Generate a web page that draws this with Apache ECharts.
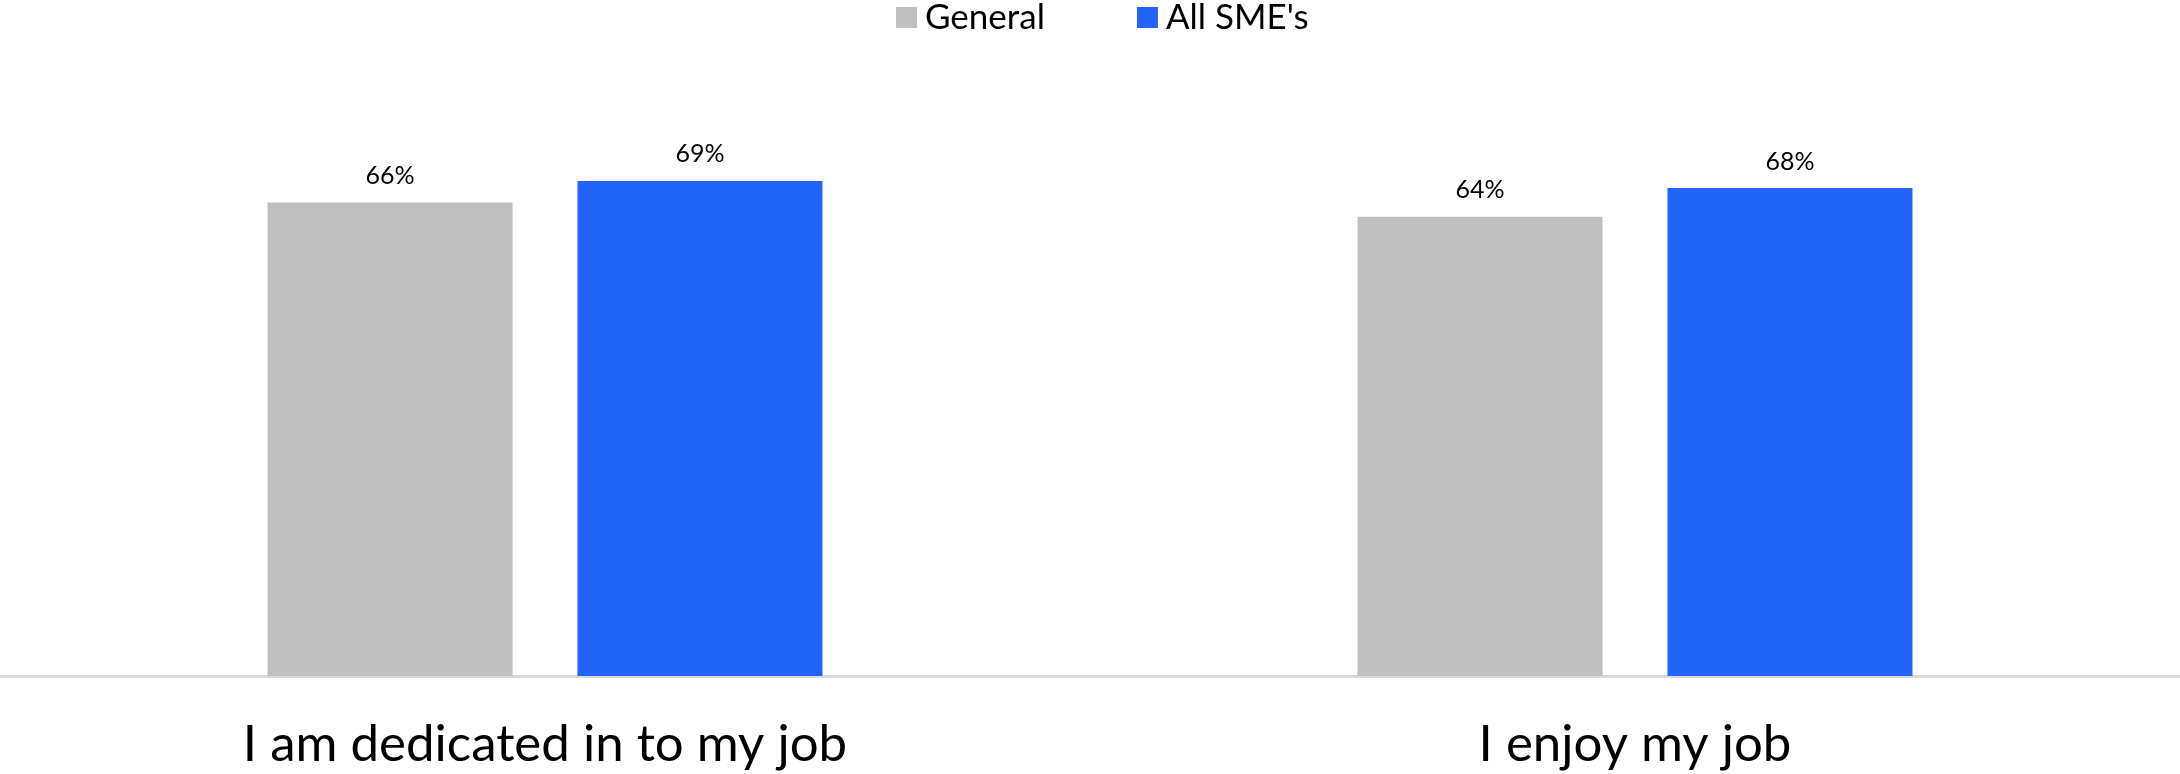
<!DOCTYPE html>
<html>
<head>
<meta charset="utf-8">
<script src="https://cdn.jsdelivr.net/npm/echarts@6/dist/echarts.min.js"></script>
<style>
  html, body { margin: 0; padding: 0; background: #ffffff; }
  #chart { width: 2180px; height: 774px; }
</style>
</head>
<body>
<div id="chart"></div>
<script>
// Survey statements and share of respondents agreeing (%)
const categories = ['I am dedicated in to my job', 'I enjoy my job'];
const seriesNames = ['General', "All SME's"];
const generalValues = [66, 64];
const smeValues = [69, 68];

const FONT = 'Lato, "Open Sans", "Noto Sans", sans-serif';

const chart = echarts.init(document.getElementById('chart'), null, { renderer: 'canvas' });

chart.setOption({
  backgroundColor: '#ffffff',
  animation: false,
  legend: {
    data: seriesNames,
    top: 0,
    left: 896,
    padding: 0,
    itemWidth: 21,
    itemHeight: 21,
    itemGap: 92,
    icon: 'rect',
    textStyle: { fontFamily: FONT, fontSize: 35, color: '#000000', padding: [0, 0, 0, 3] }
  },
  grid: { left: 0, right: 0, top: 102, bottom: 98, containLabel: false },
  xAxis: {
    type: 'category',
    data: categories,
    axisLine: { show: true, lineStyle: { color: '#d9d9d9', width: 3 } },
    axisTick: { show: false },
    axisLabel: {
      margin: 43,
      fontFamily: FONT,
      fontSize: 51,
      color: '#000000'
    }
  },
  yAxis: {
    type: 'value',
    min: 0,
    max: 80,
    show: false,
    splitLine: { show: false }
  },
  series: [
    {
      name: seriesNames[0],
      type: 'bar',
      data: generalValues,
      barWidth: 245,
      barGap: '26.5%',
      itemStyle: { color: '#bfbfbf' },
      label: {
        show: true, position: 'top', distance: 14,
        formatter: '{c}%', fontFamily: FONT, fontSize: 25, color: '#000000'
      }
    },
    {
      name: seriesNames[1],
      type: 'bar',
      data: smeValues,
      barWidth: 245,
      barGap: '26.5%',
      itemStyle: { color: '#2264f7' },
      label: {
        show: true, position: 'top', distance: 14,
        formatter: '{c}%', fontFamily: FONT, fontSize: 25, color: '#000000'
      }
    }
  ]
});
</script>
</body>
</html>
